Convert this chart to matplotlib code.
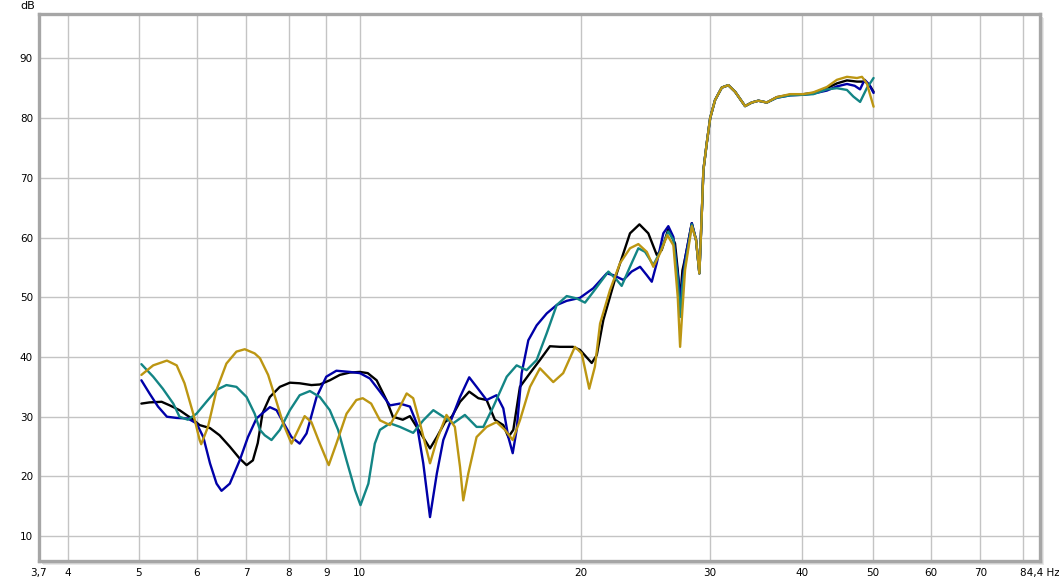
import matplotlib.pyplot as plt
from matplotlib.patches import Rectangle

# traces: frequency in Hz, level in dB
black_hz = [5.04, 5.17, 5.37, 5.51, 5.68, 5.90, 6.05, 6.25, 6.44, 6.65, 6.86, 7.01, 7.15, 7.26, 7.37, 7.54,
            7.78, 8.03, 8.28, 8.59, 8.82, 9.10, 9.39, 9.69, 10.0, 10.25, 10.54, 10.87, 11.09, 11.44, 11.70,
            11.95, 12.26, 12.46, 12.73, 13.06, 13.34, 13.69, 14.09, 14.50, 14.88, 15.27, 15.68, 15.93, 16.18,
            16.52, 17.05, 17.59, 18.15, 18.73, 19.51, 19.94, 20.69, 21.02, 21.46, 22.38, 23.33, 24.03, 24.71,
            25.37, 25.77, 26.31, 26.87, 27.10, 27.30, 27.50, 27.73, 28.32, 28.70, 29.00, 29.20, 29.37, 29.68,
            30.00, 30.46, 31.11, 31.76, 32.44, 33.47, 34.18, 34.90, 35.83, 36.97, 38.55, 40.20, 41.46, 43.26,
            44.64, 46.07, 47.54, 48.80, 49.57, 50.08]
black_db = [32.2, 32.4, 32.5, 31.9, 31.1, 29.7, 28.6, 28.1, 26.9, 25.0, 23.0, 21.9, 22.7, 25.6, 30.6, 33.3,
            35.0, 35.7, 35.6, 35.3, 35.4, 36.1, 37.0, 37.4, 37.5, 37.3, 36.1, 32.8, 30.0, 29.5, 30.1,
            28.3, 26.1, 24.7, 26.6, 29.1, 30.0, 32.5, 34.2, 33.1, 32.8, 29.5, 28.6, 26.6, 27.8,
            35.0, 37.3, 39.5, 41.8, 41.7, 41.7, 41.2, 39.0, 40.3, 46.2, 54.0, 60.7, 62.2, 60.7,
            57.1, 57.9, 61.4, 59.0, 54.5, 49.5, 54.5, 56.5, 62.4, 59.6, 54.0, 63.0, 71.3, 75.8,
            80.0, 83.0, 85.1, 85.5, 84.4, 82.0, 82.6, 82.9, 82.6, 83.5, 83.9, 84.0, 84.2, 85.0,
            85.8, 86.3, 86.1, 86.1, 85.3, 84.4]

blue_hz = [5.04, 5.17, 5.31, 5.46, 5.63, 5.83, 5.99, 6.12, 6.25, 6.38, 6.48, 6.65, 6.86, 7.04, 7.23, 7.37,
           7.54, 7.70, 7.86, 8.07, 8.28, 8.46, 8.73, 9.00, 9.29, 9.69, 10.0, 10.32, 10.65, 10.99, 11.34,
           11.70, 11.95, 12.20, 12.46, 12.73, 12.99, 13.26, 13.69, 14.09, 14.42, 14.88, 15.35, 15.68, 15.93,
           16.15, 16.35, 16.61, 16.96, 17.41, 17.97, 18.54, 19.13, 19.94, 20.79, 21.69, 22.14, 22.85, 23.45,
           24.08, 24.59, 24.98, 25.37, 25.90, 26.31, 26.73, 27.16, 27.30, 27.56, 27.73, 28.32, 28.70, 29.00,
           29.20, 29.37, 29.68, 30.00, 30.46, 31.11, 31.76, 32.44, 33.47, 34.18, 34.90, 35.83, 36.97, 38.55,
           40.20, 41.46, 43.26, 44.64, 46.07, 47.20, 48.00, 48.70, 49.40, 50.08]
blue_db = [36.1, 33.9, 31.7, 30.0, 29.8, 29.7, 28.9, 26.6, 22.2, 18.8, 17.6, 18.8, 22.7, 26.6, 29.7, 30.6,
           31.6, 31.1, 29.1, 26.6, 25.5, 27.2, 33.3, 36.7, 37.7, 37.5, 37.3, 36.4, 34.2, 31.9, 32.2,
           31.7, 28.9, 22.2, 13.2, 20.5, 26.1, 28.9, 33.3, 36.6, 35.0, 32.8, 33.6, 31.4, 26.6,
           23.9, 27.8, 37.3, 42.8, 45.3, 47.3, 48.7, 49.4, 49.9, 51.5, 54.0, 53.7, 52.9, 54.3,
           55.1, 53.7, 52.6, 55.7, 60.7, 61.9, 60.1, 52.9, 49.5, 53.7, 56.5, 62.4, 59.6, 54.0,
           63.0, 71.3, 75.8, 80.0, 83.0, 85.1, 85.5, 84.4, 82.0, 82.6, 82.9, 82.6, 83.4, 83.8,
           83.9, 84.1, 84.6, 85.3, 85.7, 85.4, 84.8, 86.4, 85.6, 84.2]

teal_hz = [5.04, 5.23, 5.39, 5.57, 5.68, 5.83, 5.99, 6.18, 6.38, 6.58, 6.79, 7.01, 7.19, 7.31, 7.42, 7.58,
           7.78, 8.03, 8.28, 8.55, 8.82, 9.10, 9.34, 9.59, 9.85, 10.02, 10.27, 10.48, 10.65, 10.99, 11.34,
           11.82, 12.20, 12.59, 12.99, 13.40, 13.90, 14.42, 14.73, 15.20, 15.85, 16.35, 16.87, 17.41, 17.97,
           18.54, 19.13, 19.74, 20.26, 20.79, 21.80, 22.38, 22.73, 23.33, 23.95, 24.46, 25.10, 25.64, 26.31,
           26.73, 27.10, 27.30, 27.50, 27.73, 28.32, 28.70, 29.00, 29.20, 29.37, 29.68, 30.00, 30.46, 31.11,
           31.76, 32.44, 33.47, 34.18, 34.90, 35.83, 36.97, 38.55, 40.20, 41.46, 43.26, 44.64, 46.07, 47.00,
           48.01, 49.03, 50.08]
teal_db = [38.8, 36.7, 34.7, 32.2, 30.0, 29.5, 30.5, 32.5, 34.5, 35.3, 35.0, 33.3, 30.5, 27.8, 26.9, 26.1,
           27.8, 31.1, 33.6, 34.3, 33.3, 31.1, 27.8, 22.7, 17.7, 15.2, 18.8, 25.5, 27.8, 28.9, 28.3,
           27.3, 29.4, 31.1, 30.0, 28.9, 30.3, 28.3, 28.3, 31.7, 36.7, 38.6, 37.8, 39.5, 44.0,
           48.7, 50.2, 49.8, 49.1, 50.9, 54.3, 52.9, 51.9, 55.1, 58.2, 57.6, 55.4, 57.6, 61.0,
           59.6, 53.0, 46.7, 52.0, 55.4, 62.2, 59.6, 54.0, 63.0, 71.3, 75.8, 80.0, 83.0, 85.1,
           85.5, 84.4, 82.0, 82.6, 82.9, 82.6, 83.4, 83.8, 83.9, 84.0, 84.8, 85.0, 84.7, 83.6,
           82.7, 85.0, 86.7]

gold_hz = [5.04, 5.23, 5.46, 5.63, 5.77, 5.93, 6.05, 6.08, 6.21, 6.38, 6.58, 6.79, 6.97, 7.19, 7.31, 7.50,
           7.70, 7.86, 8.07, 8.24, 8.41, 8.59, 8.82, 9.07, 9.29, 9.59, 9.89, 10.09, 10.36, 10.65, 10.99,
           11.28, 11.58, 11.82, 12.11, 12.46, 12.73, 13.12, 13.47, 13.69, 13.83, 14.05, 14.42, 14.88, 15.35,
           15.76, 16.15, 16.52, 17.05, 17.59, 18.34, 18.92, 19.63, 20.05, 20.53, 20.90, 21.24, 21.91, 22.61,
           23.33, 23.95, 24.59, 25.10, 25.64, 26.23, 26.73, 27.10, 27.30, 27.50, 27.73, 28.32, 28.70, 29.00,
           29.20, 29.37, 29.68, 30.00, 30.46, 31.11, 31.76, 32.44, 33.47, 34.18, 34.90, 35.83, 36.97, 38.55,
           40.20, 41.46, 43.26, 44.64, 46.07, 47.54, 48.29, 49.03, 50.08]
gold_db = [37.0, 38.6, 39.4, 38.6, 35.6, 30.5, 26.1, 25.4, 28.3, 34.5, 38.9, 40.9, 41.3, 40.6, 39.8, 37.0,
           32.5, 28.9, 25.5, 27.8, 30.1, 29.1, 25.5, 21.9, 25.5, 30.5, 32.8, 33.1, 32.2, 29.4, 28.6,
           31.1, 33.9, 33.1, 28.3, 22.2, 26.1, 30.3, 28.3, 21.6, 16.0, 20.5, 26.6, 28.3, 29.1,
           27.8, 26.1, 29.4, 35.0, 38.1, 35.8, 37.3, 41.7, 40.6, 34.7, 38.4, 45.6, 51.2, 55.7,
           58.2, 58.9, 57.6, 55.1, 57.4, 60.4, 58.7, 50.0, 41.7, 48.0, 54.6, 61.9, 59.6, 54.0,
           63.0, 71.3, 75.8, 80.0, 83.0, 85.1, 85.5, 84.4, 82.0, 82.6, 82.9, 82.6, 83.5, 84.0,
           84.0, 84.3, 85.2, 86.4, 86.9, 86.7, 86.9, 85.8, 81.9]

x_ticks = [3.65, 4, 5, 6, 7, 8, 9, 10, 20, 30, 40, 50, 60, 70, 84.4]
x_labels = ['3,7', '4', '5', '6', '7', '8', '9', '10', '20', '30', '40', '50', '60', '70', '84,4 Hz']
y_ticks = [10, 20, 30, 40, 50, 60, 70, 80, 90]

W, H = 1059, 582
fig = plt.figure(figsize=(W / 100, H / 100), dpi=100)

# plot frame in pixel terms
left, right, top, bottom = 38.5, 1040, 13.5, 561
ax = fig.add_axes([left / W, (H - bottom) / H, (right - left) / W, (bottom - top) / H])
ax.set_zorder(2)
ax.set_facecolor('white')

# soft shadow on the right / bottom of the frame
for off, col in [(4, '#e8e8e8'), (3, '#d8d8d8')]:
    fig.patches.append(Rectangle(((left + off) / W, (H - bottom - off) / H),
                                 (right - left) / W, (bottom - top) / H,
                                 transform=fig.transFigure, facecolor=col,
                                 edgecolor='none', zorder=-5))

style = dict(lw=1.7, zorder=3, solid_joinstyle='round', solid_capstyle='round')
ax.plot(black_hz, black_db, color='#000000', **style)
ax.plot(blue_hz, blue_db, color='#0000a8', **style)
ax.plot(teal_hz, teal_db, color='#138585', **style)
ax.plot(gold_hz, gold_db, color='#bc9612', **style)

ax.set_xscale('log')
ax.set_xlim(3.65, 84.4)
ax.set_ylim(5.85, 97.5)
ax.set_xticks(x_ticks)
ax.set_xticklabels(x_labels)
ax.set_xticks([80], minor=True)
ax.xaxis.set_minor_formatter(plt.NullFormatter())
ax.set_yticks(y_ticks)
ax.set_yticklabels([str(v) for v in y_ticks])
ax.tick_params(which='both', length=0, labelsize=7.5, colors='#000000')
ax.tick_params(axis='x', pad=5)
ax.tick_params(axis='y', pad=4)
ax.grid(True, which='both', color='#c4c4c4', lw=1)
ax.set_axisbelow(True)

for s in ax.spines.values():
    s.set_color('#a6a6a6')
    s.set_linewidth(2.4)

fig.text(35 / W, 1 - 6 / H, 'dB', ha='right', va='center', fontsize=8)

fig.savefig('out.png', dpi=100, facecolor='white')
